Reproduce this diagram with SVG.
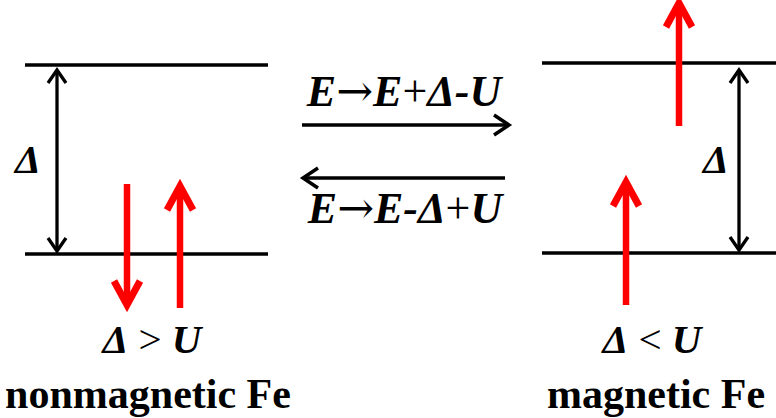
<svg xmlns="http://www.w3.org/2000/svg" width="776" height="418" viewBox="0 0 776 418">
<style>
.lvl{stroke:#000;stroke-width:3.5;fill:none}
.gap{stroke:#000;stroke-width:3.3;fill:none;marker-start:url(#bk);marker-end:url(#bk)}
.mid{stroke:#000;stroke-width:3.5;fill:none;marker-end:url(#mk)}
.spin{stroke:#ff0000;stroke-width:6.5;fill:none;marker-end:url(#rd)}
text{font-family:"Liberation Serif","Times New Roman",serif;font-weight:bold;fill:#000}
.it{font-style:italic}
.rg{font-style:normal;font-weight:normal}
.ar{font-family:"DejaVu Serif",serif;font-style:normal;font-weight:normal}
</style>
<defs>
<marker id="bk" markerUnits="userSpaceOnUse" orient="auto-start-reverse" viewBox="-15 -12 18 24" refX="0" refY="0" markerWidth="18" markerHeight="24" overflow="visible">
<path d="M-13,-9 L0,0 L-13,9" fill="none" stroke="#000" stroke-width="3.3"/>
</marker>
<marker id="mk" markerUnits="userSpaceOnUse" orient="auto" viewBox="-18 -13 22 26" refX="0" refY="0" markerWidth="22" markerHeight="26" overflow="visible">
<path d="M-15,-10 L0,0 L-15,10" fill="none" stroke="#000" stroke-width="3.5"/>
</marker>
<marker id="rd" markerUnits="userSpaceOnUse" orient="auto" viewBox="-30 -18 36 36" refX="0" refY="0" markerWidth="36" markerHeight="36" overflow="visible">
<path d="M-24,-13 L0,0 L-24,13" fill="none" stroke="#ff0000" stroke-width="7"/>
</marker>
</defs>
<g id="nonmagnetic">
<line class="lvl" x1="25" y1="65" x2="268" y2="65"/>
<line class="lvl" x1="25" y1="254" x2="268" y2="254"/>
<line class="gap" x1="57" y1="70" x2="57" y2="251"/>
<text class="it" x="15" y="173" font-size="41">Δ</text>
<line class="spin" x1="127" y1="184" x2="127" y2="305"/>
<line class="spin" x1="180" y1="308" x2="180" y2="186"/>
<text x="152" y="353" font-size="41" text-anchor="middle"><tspan class="it">Δ</tspan><tspan class="rg"> &gt; </tspan><tspan class="it">U</tspan></text>
<text x="148" y="408" font-size="42" text-anchor="middle">nonmagnetic Fe</text>
</g>
<g id="magnetic">
<line class="lvl" x1="542" y1="63" x2="776" y2="63"/>
<line class="lvl" x1="542" y1="253" x2="776" y2="253"/>
<line class="gap" x1="739" y1="70" x2="739" y2="250"/>
<text class="it" x="703" y="173" font-size="41">Δ</text>
<line class="spin" x1="679" y1="126" x2="679" y2="3"/>
<line class="spin" x1="626" y1="305" x2="626" y2="182"/>
<text x="652" y="353" font-size="41" text-anchor="middle"><tspan class="it">Δ</tspan><tspan class="rg"> &lt; </tspan><tspan class="it">U</tspan></text>
<text x="656" y="408" font-size="42" text-anchor="middle">magnetic Fe</text>
</g>
<g id="connectors">
<line class="mid" x1="302" y1="125" x2="509" y2="125"/>
<line class="mid" x1="505" y1="178" x2="303" y2="178"/>
</g>
<g id="labels">
<text class="it" x="404" y="106" font-size="44" text-anchor="middle">E<tspan class="ar">→</tspan>E<tspan class="rg">+</tspan>Δ-U</text>
<text class="it" x="405" y="223" font-size="44" text-anchor="middle">E<tspan class="ar">→</tspan>E-Δ<tspan class="rg">+</tspan>U</text>
</g>
</svg>
